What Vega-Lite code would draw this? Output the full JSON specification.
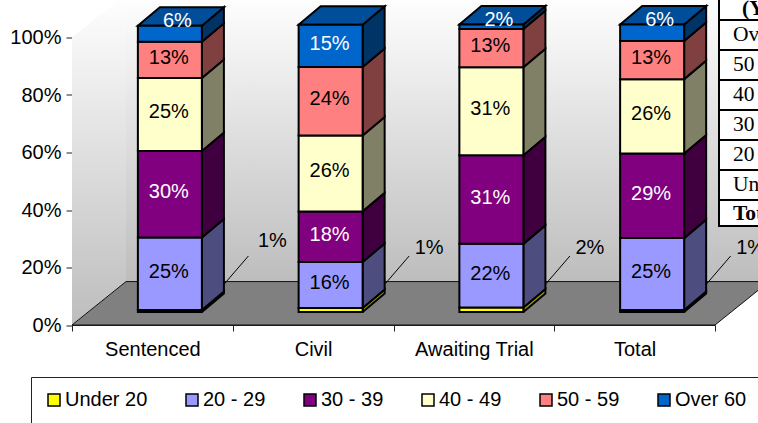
{
"$schema":"https://vega.github.io/schema/vega-lite/v6.json",
"autosize":{"type":"none"},
"width":643,"height":287.5,
"padding":{"left":72,"top":37.5,"right":43,"bottom":98},
"background":"white",
"config":{"font":"Liberation Sans","view":{"stroke":null},"axis":{"grid":false,"domainColor":"#222","tickColor":"#222","labelColor":"black","labelFontSize":20,"tickSize":6,"labelPadding":5}},
"datasets":{
"plane":[
{"plane":"left","seq":0,"level":0,"slot":0},
{"plane":"left","seq":1,"level":0.151,"slot":0.336},
{"plane":"left","seq":2,"level":1.151,"slot":0.336},
{"plane":"left","seq":3,"level":1,"slot":0},
{"plane":"left","seq":4,"level":0,"slot":0},
{"plane":"floor","seq":0,"level":0,"slot":0},
{"plane":"floor","seq":1,"level":0,"slot":4},
{"plane":"floor","seq":2,"level":0.151,"slot":4.336},
{"plane":"floor","seq":3,"level":0.151,"slot":0.336},
{"plane":"floor","seq":4,"level":0,"slot":0}
],
"leaders":[
{"cat":"Sentenced","seq":0,"level":0},{"cat":"Sentenced","seq":1,"level":0.1009},
{"cat":"Civil","seq":0,"level":0},{"cat":"Civil","seq":1,"level":0.1009},
{"cat":"Awaiting Trial","seq":0,"level":0},{"cat":"Awaiting Trial","seq":1,"level":0.1009},
{"cat":"Total","seq":0,"level":0},{"cat":"Total","seq":1,"level":0.1009}
],
"bars":[
{"cat":"Sentenced","seg":"depth","order":0,"value":0.0643},
{"cat":"Sentenced","seg":"Under 20","order":1,"value":0.007,"seq":[0,1,2,3,4],"edge":["low","backLow","backHigh","high","low"]},
{"cat":"Sentenced","seg":"20 - 29","order":2,"value":0.252,"seq":[0,1,2,3,4],"edge":["low","backLow","backHigh","high","low"]},
{"cat":"Sentenced","seg":"30 - 39","order":3,"value":0.301,"seq":[0,1,2,3,4],"edge":["low","backLow","backHigh","high","low"]},
{"cat":"Sentenced","seg":"40 - 49","order":4,"value":0.254,"seq":[0,1,2,3,4],"edge":["low","backLow","backHigh","high","low"]},
{"cat":"Sentenced","seg":"50 - 59","order":5,"value":0.126,"seq":[0,1,2,3,4],"edge":["low","backLow","backHigh","high","low"]},
{"cat":"Sentenced","seg":"Over 60","order":6,"value":0.056,"seq":[0,1,2,3,4],"edge":["low","backLow","backHigh","high","low"]},
{"cat":"Civil","seg":"depth","order":0,"value":0.0643},
{"cat":"Civil","seg":"Under 20","order":1,"value":0.014,"seq":[0,1,2,3,4],"edge":["low","backLow","backHigh","high","low"]},
{"cat":"Civil","seg":"20 - 29","order":2,"value":0.16,"seq":[0,1,2,3,4],"edge":["low","backLow","backHigh","high","low"]},
{"cat":"Civil","seg":"30 - 39","order":3,"value":0.176,"seq":[0,1,2,3,4],"edge":["low","backLow","backHigh","high","low"]},
{"cat":"Civil","seg":"40 - 49","order":4,"value":0.264,"seq":[0,1,2,3,4],"edge":["low","backLow","backHigh","high","low"]},
{"cat":"Civil","seg":"50 - 59","order":5,"value":0.238,"seq":[0,1,2,3,4],"edge":["low","backLow","backHigh","high","low"]},
{"cat":"Civil","seg":"Over 60","order":6,"value":0.147,"seq":[0,1,2,3,4],"edge":["low","backLow","backHigh","high","low"]},
{"cat":"Awaiting Trial","seg":"depth","order":0,"value":0.0643},
{"cat":"Awaiting Trial","seg":"Under 20","order":1,"value":0.016,"seq":[0,1,2,3,4],"edge":["low","backLow","backHigh","high","low"]},
{"cat":"Awaiting Trial","seg":"20 - 29","order":2,"value":0.221,"seq":[0,1,2,3,4],"edge":["low","backLow","backHigh","high","low"]},
{"cat":"Awaiting Trial","seg":"30 - 39","order":3,"value":0.308,"seq":[0,1,2,3,4],"edge":["low","backLow","backHigh","high","low"]},
{"cat":"Awaiting Trial","seg":"40 - 49","order":4,"value":0.306,"seq":[0,1,2,3,4],"edge":["low","backLow","backHigh","high","low"]},
{"cat":"Awaiting Trial","seg":"50 - 59","order":5,"value":0.133,"seq":[0,1,2,3,4],"edge":["low","backLow","backHigh","high","low"]},
{"cat":"Awaiting Trial","seg":"Over 60","order":6,"value":0.016,"seq":[0,1,2,3,4],"edge":["low","backLow","backHigh","high","low"]},
{"cat":"Total","seg":"depth","order":0,"value":0.0643},
{"cat":"Total","seg":"Under 20","order":1,"value":0.007,"seq":[0,1,2,3,4],"edge":["low","backLow","backHigh","high","low"]},
{"cat":"Total","seg":"20 - 29","order":2,"value":0.25,"seq":[0,1,2,3,4],"edge":["low","backLow","backHigh","high","low"]},
{"cat":"Total","seg":"30 - 39","order":3,"value":0.294,"seq":[0,1,2,3,4],"edge":["low","backLow","backHigh","high","low"]},
{"cat":"Total","seg":"40 - 49","order":4,"value":0.259,"seq":[0,1,2,3,4],"edge":["low","backLow","backHigh","high","low"]},
{"cat":"Total","seg":"50 - 59","order":5,"value":0.133,"seq":[0,1,2,3,4],"edge":["low","backLow","backHigh","high","low"]},
{"cat":"Total","seg":"Over 60","order":6,"value":0.057,"seq":[0,1,2,3,4],"edge":["low","backLow","backHigh","high","low"]}
],
"table":[
{"row":"(Years)","rowTop":0,"rowBottom":1},
{"row":"Over 60","rowTop":1,"rowBottom":2},
{"row":"50 - 59","rowTop":2,"rowBottom":3},
{"row":"40 - 49","rowTop":3,"rowBottom":4},
{"row":"30 - 39","rowTop":4,"rowBottom":5},
{"row":"20 - 29","rowTop":5,"rowBottom":6},
{"row":"Under 20","rowTop":6,"rowBottom":7},
{"row":"Total","rowTop":7,"rowBottom":7.87}
]
},
"resolve":{"scale":{"x":"independent","y":"independent"},"axis":{"x":"independent","y":"independent"}},
"layer":[
{
"data":{"name":"plane"},
"transform":[{"filter":"datum.plane==='left'"}],
"mark":{"type":"rect","x2Offset":54,"xOffset":54,"yOffset":-43.5,"y2Offset":-43.5,"fill":{"x1":0,"y1":0,"x2":0,"y2":1,"gradient":"linear","stops":[{"offset":0,"color":"#ffffff"},{"offset":1,"color":"#bdbdbd"}]}},
"encoding":{
"x":{"datum":0,"type":"quantitative","scale":{"domain":[0,4]},"axis":null},
"x2":{"datum":4},
"y":{"datum":0,"type":"quantitative","scale":{"domain":[0,1]},"axis":null},
"y2":{"datum":1}
}
},
{
"data":{"name":"plane"},
"transform":[{"filter":"datum.plane==='left'"}],
"mark":{"type":"line","strokeWidth":0,"fill":{"x1":0,"y1":0,"x2":0,"y2":1,"gradient":"linear","stops":[{"offset":0,"color":"#ffffff"},{"offset":1,"color":"#bdbdbd"}]}},
"encoding":{
"x":{"field":"slot","type":"quantitative","scale":{"domain":[0,4]},"axis":null},
"y":{"field":"level","type":"quantitative","scale":{"domain":[0,1]},"axis":null},
"order":{"field":"seq"}
}
},
{
"data":{"name":"plane"},
"transform":[{"filter":"datum.plane==='floor'"}],
"mark":{"type":"line","stroke":"#111","strokeWidth":1,"fill":"#808080"},
"encoding":{
"x":{"field":"slot","type":"quantitative","scale":{"domain":[0,4]},"axis":null},
"y":{"field":"level","type":"quantitative","scale":{"domain":[0,1]},"axis":null},
"order":{"field":"seq"}
}
},
{
"data":{"name":"bars"},
"transform":[
{"stack":"value","groupby":["cat"],"sort":[{"field":"order","order":"ascending"}],"as":["backLow","backHigh"]},
{"filter":"datum.seg!=='depth'"},
{"stack":"value","groupby":["cat"],"sort":[{"field":"order","order":"ascending"}],"as":["low","high"]}
],
"resolve":{"scale":{"xOffset":"independent","yOffset":"independent","fill":"independent"}},
"encoding":{"x":{"field":"cat","type":"nominal","title":null,"sort":null,"scale":{"type":"band","domain":["Sentenced","Civil","Awaiting Trial","Total"],"paddingInner":0,"paddingOuter":0},"axis":{"labelAngle":0,"tickBand":"extent","title":null,"labelPadding":8}}},
"layer":[
{
"transform":[{"flatten":["seq","edge"]},{"fold":["low","backLow","backHigh","high"],"as":["key","level"]},{"filter":"datum.key===datum.edge"}],
"mark":{"type":"line","stroke":"black","strokeWidth":2,"yOffset":-13},
"encoding":{
"y":{"field":"level","type":"quantitative","title":null,"scale":{"domain":[0,1]}},
"xOffset":{"field":"seq","type":"quantitative","scale":{"domain":[0,1,2,3,4],"range":[129.9,151.9,151.9,129.9,129.9]}},
"detail":[{"field":"cat"},{"field":"seg"}],
"order":{"field":"seq"},
"fill":{"field":"seg","type":"nominal","legend":null,"scale":{"domain":["Under 20","20 - 29","30 - 39","40 - 49","50 - 59","Over 60"],"range":["#999900","#4D4D80","#400040","#808066","#804040","#003366"]}}
}
},
{
"transform":[{"filter":"datum.seg==='Over 60'"},{"flatten":["seq","edge"]},{"fold":["high","backHigh"],"as":["key","level"]},{"filter":"(datum.key==='high')===(datum.edge==='low'||datum.edge==='high')"}],
"mark":{"type":"line","stroke":"black","strokeWidth":2,"fill":"#004D99","yOffset":-13},
"encoding":{
"y":{"field":"level","type":"quantitative","title":null,"scale":{"domain":[0,1]}},
"xOffset":{"field":"seq","type":"quantitative","scale":{"domain":[0,1,2,3,4],"range":[129.9,151.9,87.9,65.9,129.9]}},
"detail":{"field":"cat"},
"order":{"field":"seq"}
}
},
{
"mark":{"type":"bar","width":64,"xOffset":17.5,"yOffset":-13,"y2Offset":-13,"stroke":"black","strokeWidth":2},
"encoding":{
"y":{"field":"low","type":"quantitative","title":null,"scale":{"domain":[0,1]},"axis":{"values":[0,0.2,0.4,0.6,0.8,1],"format":".0%","title":null}},
"y2":{"field":"high"},
"fill":{"field":"seg","type":"nominal","scale":{"domain":["Under 20","20 - 29","30 - 39","40 - 49","50 - 59","Over 60"],"range":["#FFFF00","#9999FF","#800080","#FFFFCC","#FF8080","#0066CC"]},
"legend":{"orient":"none","legendX":-41,"legendY":339.5,"direction":"horizontal","columns":6,"title":null,"symbolType":"square","symbolSize":144,"symbolStrokeColor":"black","symbolStrokeWidth":1.5,"labelFontSize":20,"labelColor":"black","labelFont":"Liberation Sans","strokeColor":"#222","fillColor":"white","padding":13,"labelOffset":1,"columnPadding":34,"gridAlign":"none"}}
}
},
{
"mark":{"type":"text","fontSize":20,"xOffset":16.5,"yOffset":-15},
"encoding":{
"y":{"field":"value","type":"quantitative","stack":"zero","bandPosition":0.5,"title":null,"scale":{"domain":[0,1]}},
"detail":{"field":"seg"},
"order":{"field":"order"},
"text":{"condition":{"test":"datum.seg==='Under 20'||(datum.seg==='Over 60'&&datum.value<0.1)","value":""},"field":"value","type":"quantitative","format":".0%"},
"color":{"condition":{"test":"datum.seg==='30 - 39'||datum.seg==='Over 60'","value":"white"},"value":"black"}
}
},
{
"transform":[{"filter":"datum.seg==='Over 60'&&datum.value<0.1"}],
"mark":{"type":"text","fontSize":20,"color":"white","xOffset":25,"yOffset":-18},
"encoding":{
"y":{"field":"high","type":"quantitative","title":null,"scale":{"domain":[0,1]}},
"text":{"field":"value","type":"quantitative","format":".0%"}
}
},
{
"transform":[{"filter":"datum.seg==='Under 20'&&datum.cat==='Sentenced'"}],
"mark":{"type":"text","fontSize":20,"color":"black","xOffset":120,"yOffset":-84},
"encoding":{
"y":{"field":"low","type":"quantitative","title":null,"scale":{"domain":[0,1]}},
"text":{"field":"value","type":"quantitative","format":".0%"}
}
},
{
"transform":[{"filter":"datum.seg==='Under 20'&&datum.cat!=='Sentenced'"}],
"mark":{"type":"text","fontSize":20,"color":"black","xOffset":116,"yOffset":-77},
"encoding":{
"y":{"field":"low","type":"quantitative","title":null,"scale":{"domain":[0,1]}},
"text":{"field":"value","type":"quantitative","format":".0%"}
}
},
{
"data":{"name":"leaders"},
"transform":[],
"mark":{"type":"line","stroke":"black","strokeWidth":1,"yOffset":-40},
"encoding":{
"y":{"field":"level","type":"quantitative","title":null,"scale":{"domain":[0,1]}},
"xOffset":{"field":"seq","type":"quantitative","scale":{"domain":[0,1],"range":[151.4,176.4]}},
"detail":{"field":"cat"},
"order":{"field":"seq"}
}
}
]
},
{
"data":{"name":"table"},
"encoding":{
"x":{"datum":0,"type":"quantitative","scale":{"domain":[0,1],"range":[647,700]},"axis":null},
"y":{"field":"rowTop","type":"quantitative","scale":{"domain":[0,8],"range":[-47.5,192.5]},"axis":null}
},
"layer":[
{"mark":{"type":"rect","fill":"white","stroke":"black","strokeWidth":2},"encoding":{"x2":{"datum":1},"y2":{"field":"rowBottom"}}},
{"transform":[{"filter":"datum.rowTop>0&&datum.rowTop<7"}],"mark":{"type":"text","font":"Liberation Serif","fontSize":21.5,"align":"left","color":"black","dx":14,"dy":15},"encoding":{"text":{"field":"row"}}},
{"transform":[{"filter":"datum.rowTop===7"}],"mark":{"type":"text","font":"Liberation Serif","fontWeight":"bold","fontSize":21.5,"align":"left","color":"black","dx":14,"dy":14},"encoding":{"text":{"field":"row"}}},
{"transform":[{"filter":"datum.rowTop===0"}],"mark":{"type":"text","font":"Liberation Serif","fontWeight":"bold","fontSize":21.5,"align":"left","color":"black","dx":23,"dy":19},"encoding":{"text":{"field":"row"}}}
]
}
]
}
